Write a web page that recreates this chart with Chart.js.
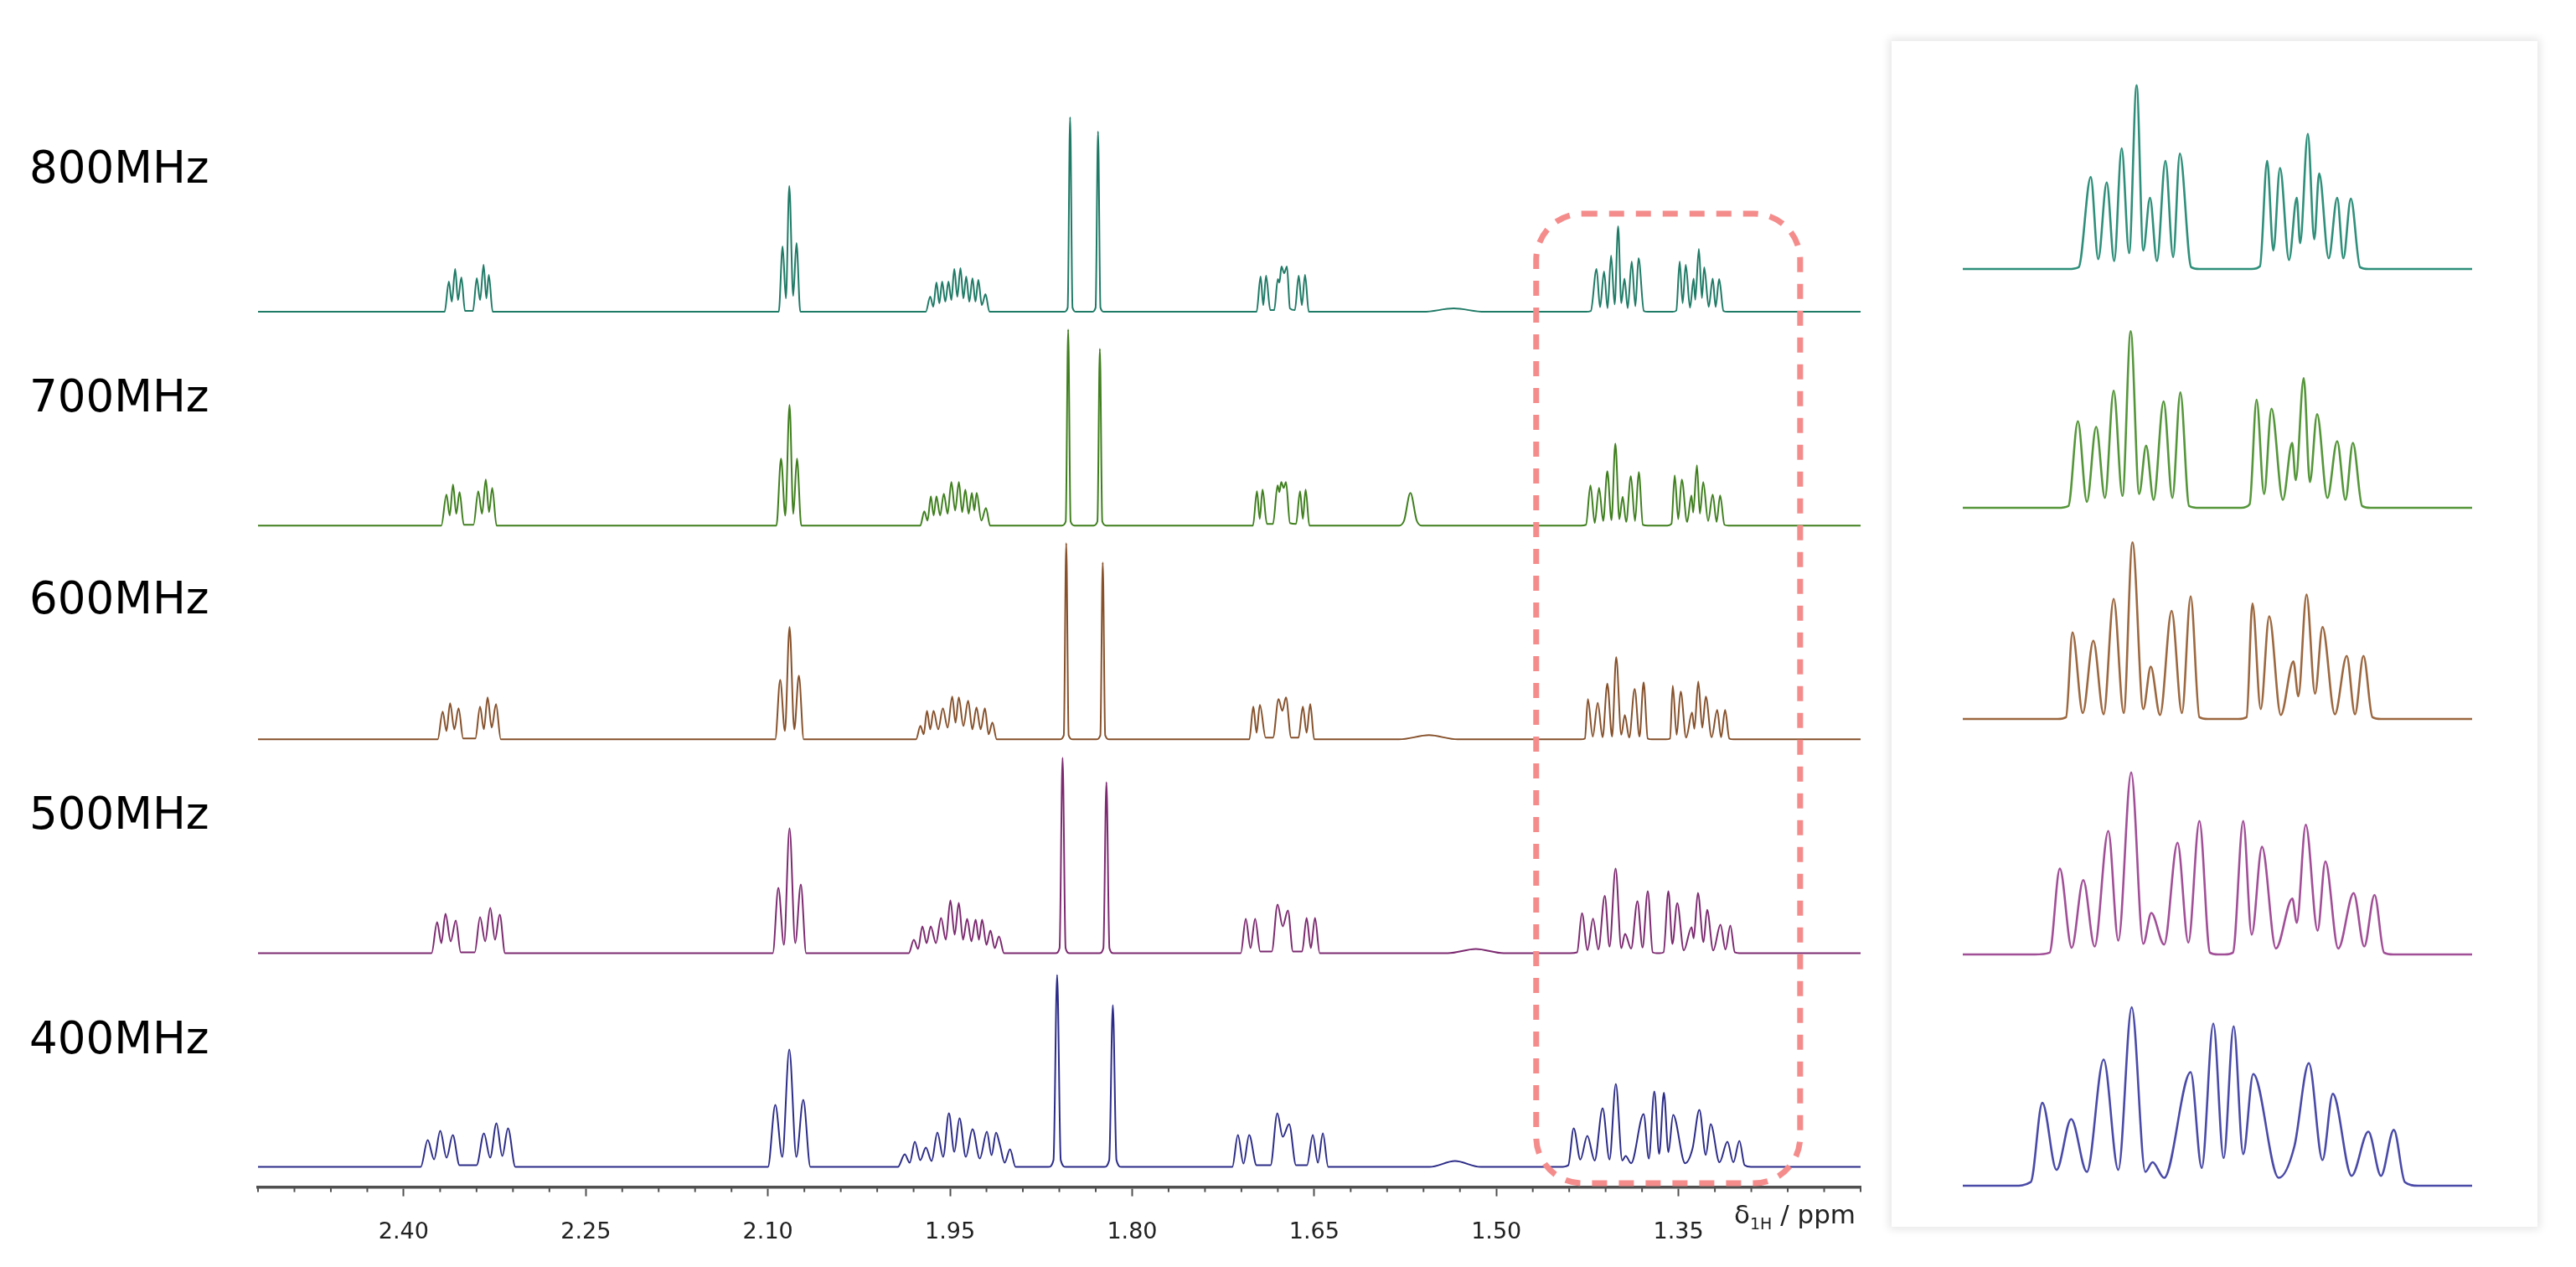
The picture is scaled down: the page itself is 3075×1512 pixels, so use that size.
<!DOCTYPE html>
<html><head><meta charset="utf-8">
<script src="https://cdn.jsdelivr.net/npm/chart.js@4/dist/chart.umd.min.js"></script>
<style>
html,body{margin:0;padding:0;background:#fff;width:3075px;height:1512px;overflow:hidden;font-family:'DejaVu Sans',sans-serif;}
#main{position:absolute;left:0;top:0;}
.lbl{position:absolute;left:35px;font-size:53px;line-height:53px;color:#000;white-space:nowrap;}
#axt{position:absolute;left:2070px;top:1434px;font-size:31px;line-height:31px;color:#222;white-space:nowrap;}
#axt sub{font-size:19px;vertical-align:-7px;}
#inset{position:absolute;left:2258px;top:49px;width:771px;height:1415px;background:#fff;box-shadow:0 0 10px 3px rgba(0,0,0,0.10);}
#inset canvas{position:absolute;left:0;top:0;}
</style></head><body>
<canvas id="main" width="2250" height="1540"></canvas>
<div id="labels"></div>
<div id="axt">δ<sub>1H</sub> / ppm</div>
<div id="inset"><canvas id="ins" width="771" height="1415"></canvas></div>
<script>
// ---------- DATA ----------
const fields = ['800MHz','700MHz','600MHz','500MHz','400MHz'];
const tickLabels = ['2.40','2.25','2.10','1.95','1.80','1.65','1.50','1.35'];

// [ppm, intensity] vertices: baselines, peak tops and valleys
const spec800 = [[2.52,0],
 [2.3663,0],[2.3628,36],[2.3604,12],[2.3576,51],[2.3553,14],[2.3525,41],[2.3495,1],[2.3430,1],[2.3398,40],[2.3371,14],[2.3342,56],[2.3319,16],[2.3299,44],[2.3267,0],
 [2.0911,0],[2.0879,78],[2.0852,16],[2.0824,150],[2.0792,19],[2.0765,82],[2.0733,0],
 [1.9700,0],[1.9663,18],[1.9638,6],[1.9612,35],[1.9588,10],[1.9565,36],[1.9539,12],[1.9513,36],[1.9489,14],[1.9465,51],[1.9440,18],[1.9414,52],[1.9390,16],[1.9367,42],[1.9341,12],[1.9315,40],[1.9291,12],[1.9267,38],[1.9238,8],[1.9208,21],[1.9175,0],
 [1.8561,0],[1.8531,5],[1.8511,232],[1.8491,5],[1.8461,0],[1.8331,0],[1.8301,5],[1.8281,215],[1.8261,5],[1.8231,0],
 [1.6975,0],[1.6942,42],[1.6920,8],[1.6897,43],[1.6862,2],[1.6830,2],[1.6800,39],[1.6787,35],[1.6770,54],[1.6748,46],[1.6725,54],[1.6700,4],[1.6660,2],[1.6628,43],[1.6602,8],[1.6576,44],[1.6545,0],
 [1.5600,0],[1.5352,4],[1.5100,0],
 [1.4262,0],[1.4222,1],[1.4175,51],[1.4146,5.5],[1.4113,48],[1.4084,4.4],[1.4055,67],[1.4026,8.8],[1.3997,102],[1.3971,10.3],[1.3945,39.5],[1.3918,4.4],[1.3885,60],[1.3855,6.6],[1.3829,64],[1.3785,1],[1.3753,0],
 [1.3550,0],[1.3518,1.5],[1.3490,60],[1.3466,10.3],[1.3440,56],[1.3405,5],[1.3375,39.5],[1.3362,14.3],[1.3332,75],[1.3307,16.5],[1.3288,53],[1.3251,5.9],[1.3218,39.5],[1.3194,5.9],[1.3165,39],[1.3129,1],[1.3097,0],
 [1.20,0]];

const spec700 = [[2.52,0],
 [2.3690,0],[2.3648,37],[2.3621,12],[2.3594,49],[2.3567,14],[2.3540,40],[2.3505,1],[2.3425,1],[2.3386,41],[2.3355,14],[2.3324,55],[2.3297,16],[2.3271,45],[2.3235,0],
 [2.0930,0],[2.0892,80],[2.0857,12],[2.0822,144],[2.0791,14],[2.0761,80],[2.0725,0],
 [1.9745,0],[1.9712,17],[1.9685,6],[1.9658,35],[1.9635,12],[1.9612,35],[1.9582,12],[1.9551,38],[1.9520,14],[1.9489,52],[1.9458,18],[1.9427,52],[1.9400,16],[1.9374,43],[1.9347,14],[1.9320,39],[1.9300,18],[1.9281,39],[1.9242,6],[1.9204,21],[1.9170,0],
 [1.8580,0],[1.8547,5],[1.8527,234],[1.8507,5],[1.8474,0],[1.8319,0],[1.8286,5],[1.8266,211],[1.8246,5],[1.8213,0],
 [1.7005,0],[1.6972,41],[1.6949,8],[1.6926,43],[1.6890,2],[1.6840,2],[1.6802,48],[1.6787,40],[1.6772,52],[1.6752,45],[1.6733,52],[1.6700,3],[1.6650,2],[1.6617,41],[1.6594,8],[1.6571,43],[1.6540,0],
 [1.5800,0],[1.5760,6],[1.5708,39],[1.5656,6],[1.5616,0],
 [1.4303,0],[1.4262,1],[1.4225,48],[1.4190,3.3],[1.4154,45],[1.4120,5.5],[1.4086,65],[1.4052,6.6],[1.4020,98],[1.3987,7.7],[1.3960,34.5],[1.3931,4.4],[1.3892,59],[1.3858,5.5],[1.3827,64],[1.3793,1],[1.3753,0],
 [1.3591,0],[1.3558,2],[1.3531,60],[1.3502,7.7],[1.3473,55],[1.3429,4.4],[1.3393,36],[1.3379,15.4],[1.3348,72],[1.3324,14.3],[1.3296,52],[1.3256,5.5],[1.3218,37],[1.3186,4.4],[1.3157,36],[1.3121,1],[1.3089,0],
 [1.20,0]];

const spec600 = [[2.52,0],
 [2.3720,0],[2.3679,33],[2.3648,10],[2.3618,43],[2.3583,12],[2.3548,37],[2.3510,1],[2.3410,1],[2.3371,39],[2.3340,12],[2.3309,50],[2.3275,14],[2.3240,42],[2.3200,0],
 [2.0940,0],[2.0899,71],[2.0860,10],[2.0822,134],[2.0783,12],[2.0745,76],[2.0705,0],
 [1.9780,0],[1.9744,16],[1.9717,6],[1.9690,34],[1.9663,12],[1.9636,34],[1.9597,12],[1.9559,37],[1.9520,14],[1.9482,51],[1.9455,20],[1.9428,50],[1.9390,16],[1.9351,46],[1.9316,12],[1.9282,38],[1.9248,12],[1.9213,37],[1.9182,6],[1.9151,20],[1.9115,0],
 [1.8596,0],[1.8563,5],[1.8543,234],[1.8523,5],[1.8490,0],[1.8295,0],[1.8262,5],[1.8242,211],[1.8222,5],[1.8189,0],
 [1.7035,0],[1.7002,39],[1.6975,8],[1.6948,41],[1.6900,2],[1.6840,2],[1.6794,48],[1.6763,34],[1.6733,50],[1.6690,2],[1.6630,2],[1.6594,39],[1.6563,8],[1.6533,42],[1.6500,0],
 [1.5800,0],[1.5555,5],[1.5320,0],
 [1.4303,0],[1.4271,1],[1.4246,48],[1.4206,3.3],[1.4165,43.5],[1.4125,2.6],[1.4086,66.6],[1.4047,3.3],[1.4013,98],[1.3971,5.5],[1.3942,29],[1.3906,2.2],[1.3861,60],[1.3821,3.3],[1.3787,68],[1.3753,1],[1.3720,0],
 [1.3602,0],[1.3570,1],[1.3547,64],[1.3515,5.5],[1.3482,57],[1.3437,2.2],[1.3388,32],[1.3369,12.6],[1.3337,69],[1.3304,14],[1.3275,51],[1.3227,2.6],[1.3181,35],[1.3149,2.6],[1.3116,35],[1.3081,1],[1.3048,0],
 [1.20,0]];

const spec500 = [[2.52,0],
 [2.3770,0],[2.3725,37],[2.3690,12],[2.3656,47],[2.3613,14],[2.3571,39],[2.3530,1],[2.3415,1],[2.3371,43],[2.3329,14],[2.3287,54],[2.3248,16],[2.3209,46],[2.3165,0],
 [2.0960,0],[2.0914,78],[2.0868,10],[2.0822,149],[2.0775,12],[2.0729,82],[2.0685,0],
 [1.9840,0],[1.9798,16],[1.9763,5],[1.9728,32],[1.9693,12],[1.9659,32],[1.9616,12],[1.9574,42],[1.9535,16],[1.9497,63],[1.9462,22],[1.9428,60],[1.9393,16],[1.9359,41],[1.9324,14],[1.9289,40],[1.9262,16],[1.9236,40],[1.9200,10],[1.9167,27],[1.9132,6],[1.9097,20],[1.9055,0],
 [1.8630,0],[1.8598,6],[1.8573,233],[1.8548,6],[1.8516,0],[1.8269,0],[1.8237,6],[1.8212,204],[1.8187,6],[1.8155,0],
 [1.7105,0],[1.7064,41],[1.7025,6],[1.6987,41],[1.6945,2],[1.6850,2],[1.6802,58],[1.6760,32],[1.6717,51],[1.6675,2],[1.6600,2],[1.6563,42],[1.6528,6],[1.6494,42],[1.6455,0],
 [1.5400,0],[1.5169,5],[1.4940,0],
 [1.4392,0],[1.4335,1],[1.4295,47.6],[1.4249,3.7],[1.4204,41.3],[1.4160,4.4],[1.4107,68.5],[1.4068,7.7],[1.4018,101],[1.3971,5.9],[1.3940,23],[1.3890,5.5],[1.3838,62],[1.3796,6.6],[1.3753,74],[1.3712,1],[1.3680,0],
 [1.3655,0],[1.3623,1],[1.3583,74],[1.3550,11],[1.3510,59.7],[1.3456,3.3],[1.3392,31],[1.3375,17.6],[1.3340,72],[1.3294,13.2],[1.3264,51.6],[1.3214,3.3],[1.3154,34],[1.3113,4.4],[1.3073,33],[1.3036,1],[1.3000,0],
 [1.20,0]];

const spec400 = [[2.52,0],
 [2.3860,0],[2.3802,32],[2.3750,9],[2.3699,43],[2.3647,11],[2.3596,38],[2.3540,2],[2.3400,2],[2.3339,40],[2.3288,11],[2.3236,52],[2.3188,13],[2.3141,46],[2.3080,0],
 [2.1000,0],[2.0939,74],[2.0882,12],[2.0824,140],[2.0766,12],[2.0709,80],[2.0650,0],
 [1.9930,0],[1.9873,15],[1.9832,5],[1.9790,30],[1.9745,8],[1.9699,23],[1.9652,7],[1.9604,41],[1.9557,12],[1.9509,64],[1.9465,18],[1.9422,58],[1.9370,12],[1.9315,45],[1.9255,10],[1.9196,42],[1.9158,14],[1.9121,41],[1.9089,26],[1.9050,5],[1.9006,21],[1.8960,0],
 [1.8690,0],[1.8648,8],[1.8618,229],[1.8588,8],[1.8546,0],[1.8231,0],[1.8189,8],[1.8159,193],[1.8129,8],[1.8087,0],
 [1.7175,0],[1.7129,38],[1.7083,4],[1.7036,38],[1.6975,2],[1.6860,2],[1.6804,64],[1.6760,36],[1.6707,51],[1.6650,2],[1.6560,2],[1.6512,38],[1.6470,5],[1.6429,40],[1.6385,0],
 [1.5550,0],[1.5341,7],[1.5130,0],
 [1.4473,0],[1.4408,2],[1.4363,46],[1.4308,8.8],[1.4251,37],[1.4190,7.7],[1.4125,70],[1.4068,8.8],[1.4016,99],[1.3963,7.7],[1.3935,13],[1.3890,4.4],[1.3787,63],[1.3744,9.9],[1.3699,90],[1.3659,15.4],[1.3620,88.5],[1.3583,17.6],[1.3544,62],[1.3445,4.4],[1.3384,22],[1.3328,68],[1.3275,14.3],[1.3235,51],[1.3162,5.5],[1.3097,30],[1.3048,5.5],[1.2998,31],[1.2955,2],[1.2903,0],
 [1.20,0]];

// ---------- STYLE / LAYOUT ----------
const series = [spec800, spec700, spec600, spec500, spec400];
const mainColors  = ['#1f7a66','#3f7f1e','#86512b','#7c2a70','#2c2c88'];
const insetColors = ['#2f8f7a','#55963a','#9c6840','#a14f97','#4a4aa8'];
const mainBase = [372,627,882,1137,1392];
const MAIN_TOP = 100, MAIN_BOTTOM = 1416;
const labelTops = [173,446,687,944,1212];
const insBase = [272,557,809,1090,1366];
const INS_H = 1415, INS_SCALE = 2.15;

Chart.defaults.font.family = "'DejaVu Sans', sans-serif";

const labelsDiv = document.getElementById('labels');
fields.forEach((f,i)=>{
  const d=document.createElement('div'); d.className='lbl'; d.style.top=labelTops[i]+'px'; d.textContent=f; labelsDiv.appendChild(d);
});

const toXY = s => s.map(p => ({x:p[0], y:p[1]}));
const isMajor = v => v!==undefined && tickLabels.includes(Number(v).toFixed(2));

const minorTicks = {id:'minorTicks', afterDraw(chart){
  const sc=chart.scales.x, ctx=chart.ctx;
  ctx.save(); ctx.strokeStyle='#505050'; ctx.lineWidth=2;
  sc.ticks.forEach(t=>{ if(isMajor(t.value)) return;
    const px=sc.getPixelForValue(t.value);
    ctx.beginPath(); ctx.moveTo(px, sc.top); ctx.lineTo(px, sc.top+6); ctx.stroke(); });
  ctx.restore();
}};

const dashBox = {id:'dashBox', afterDraw(chart){
  const sc=chart.scales.x, ctx=chart.ctx;
  const x1=sc.getPixelForValue(1.4672), x2=sc.getPixelForValue(1.2498);
  const y1=255, y2=1412, r=55;
  ctx.save(); ctx.strokeStyle='#f58c8c'; ctx.lineWidth=7; ctx.setLineDash([18,14]);
  ctx.beginPath();
  ctx.moveTo(x1+r,y1); ctx.lineTo(x2-r,y1); ctx.arcTo(x2,y1,x2,y1+r,r);
  ctx.lineTo(x2,y2-r); ctx.arcTo(x2,y2,x2-r,y2,r);
  ctx.lineTo(x1+r,y2); ctx.arcTo(x1,y2,x1,y2-r,r);
  ctx.lineTo(x1,y1+r); ctx.arcTo(x1,y1,x1+r,y1,r);
  ctx.closePath(); ctx.stroke(); ctx.restore();
}};

// main chart
const mainScales = {
  x:{type:'linear', reverse:true, min:1.20, max:2.52,
     border:{display:true, color:'#505050', width:3.5},
     grid:{display:true, drawOnChartArea:false, drawTicks:true, tickLength:11, tickWidth:2,
           tickColor: c => isMajor(c.tick && c.tick.value) ? '#505050' : 'rgba(0,0,0,0)'},
     ticks:{stepSize:0.03, maxTicksLimit:100, autoSkip:false, maxRotation:0, minRotation:0, padding:27,
            color:'#222', font:{size:27},
            callback: v => { const s=Number(v).toFixed(2); return tickLabels.includes(s)?s:''; }}}
};
mainBase.forEach((b,i)=>{ mainScales['y'+i] = {display:false, type:'linear', min:-(MAIN_BOTTOM-b), max:b-MAIN_TOP}; });

new Chart(document.getElementById('main'), {
  type:'line',
  data:{datasets: series.map((s,i)=>({label:fields[i], data:toXY(s), yAxisID:'y'+i,
     borderColor:mainColors[i], borderWidth:2, pointRadius:0, fill:false,
     cubicInterpolationMode:'monotone', clip:false}))},
  options:{responsive:false, animation:false, devicePixelRatio:1, events:[],
    layout:{padding:{left:308, right:29, top:MAIN_TOP, bottom:26}},
    plugins:{legend:{display:false}, tooltip:{enabled:false}},
    scales:mainScales},
  plugins:[minorTicks, dashBox]
});

// inset chart
const insScales = {x:{display:false, type:'linear', reverse:true, min:1.2694, max:1.4672}};
insBase.forEach((b,i)=>{ insScales['y'+i] = {display:false, type:'linear', min:-(INS_H-b)/INS_SCALE, max:b/INS_SCALE}; });
new Chart(document.getElementById('ins'), {
  type:'line',
  data:{datasets: series.map((s,i)=>({label:fields[i], data:toXY(s), yAxisID:'y'+i,
     borderColor:insetColors[i], borderWidth:2.6, pointRadius:0, fill:false,
     cubicInterpolationMode:'monotone', clip:{left:0, right:0, top:false, bottom:false}}))},
  options:{responsive:false, animation:false, devicePixelRatio:1, events:[],
    layout:{padding:{left:85, right:78, top:0, bottom:0}},
    plugins:{legend:{display:false}, tooltip:{enabled:false}},
    scales:insScales}
});
</script>
</body></html>
